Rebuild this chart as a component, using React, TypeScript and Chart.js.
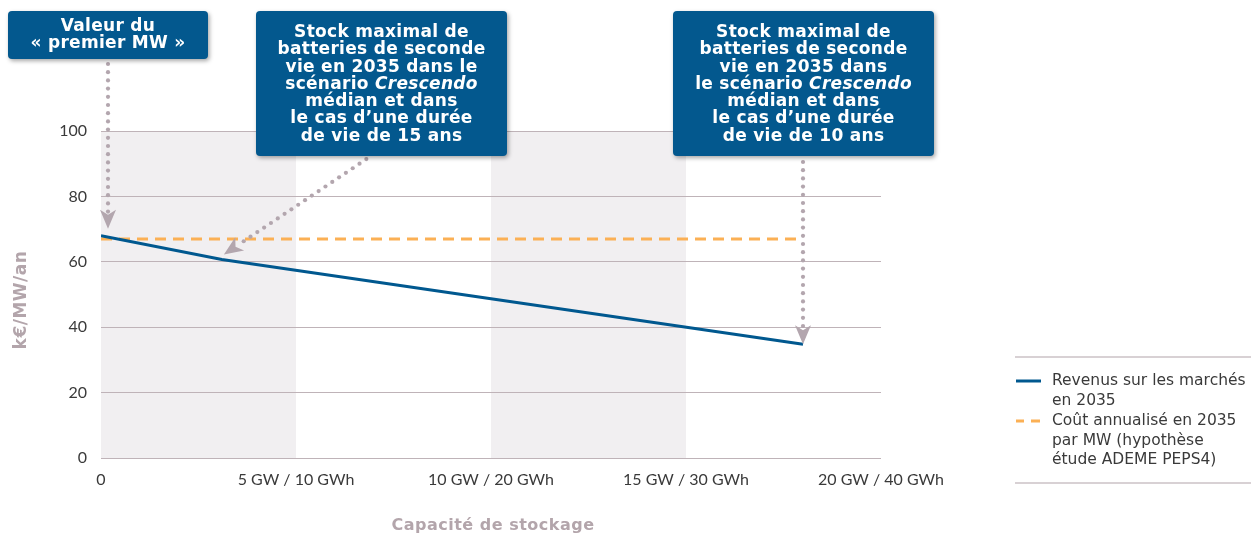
import React, { useEffect, useRef } from "react";
import { Chart, registerables } from "chart.js";

Chart.register(...registerables);

// ---------- data ----------
const revenueCapacityGW = [0, 3.1, 18];
const revenueValues = [68, 60.7, 34.8];
const costCapacityGW = [0, 18];
const costValues = [67, 67];
const xTickValues = [0, 5, 10, 15, 20];
const xTickLabels = ["0", "5 GW / 10 GWh", "10 GW / 20 GWh", "15 GW / 30 GWh", "20 GW / 40 GWh"];
const yTickStep = 20;
const yMax = 100;
const shadedBands = [
  [0, 5],
  [10, 15],
];
const yAxisTitle = "k€/MW/an";
const xAxisTitle = "Capacité de stockage";
const legendRevenue = ["Revenus sur les marchés", "en 2035"];
const legendCost = ["Coût annualisé en 2035", "par MW (hypothèse", "étude ADEME PEPS4)"];

type Seg = { t: string; i?: boolean };
const note1: Seg[][] = [[{ t: "Valeur du" }], [{ t: "« premier MW »" }]];
const note2: Seg[][] = [
  [{ t: "Stock maximal de" }],
  [{ t: "batteries de seconde" }],
  [{ t: "vie en 2035 dans le" }],
  [{ t: "scénario " }, { t: "Crescendo", i: true }],
  [{ t: "médian et dans" }],
  [{ t: "le cas d’une durée" }],
  [{ t: "de vie de 15 ans" }],
];
const note3: Seg[][] = [
  [{ t: "Stock maximal de" }],
  [{ t: "batteries de seconde" }],
  [{ t: "vie en 2035 dans" }],
  [{ t: "le scénario " }, { t: "Crescendo", i: true }],
  [{ t: "médian et dans" }],
  [{ t: "le cas d’une durée" }],
  [{ t: "de vie de 10 ans" }],
];

// ---------- styles ----------
const BLUE = "#00588f";
const ORANGE = "#fbb055";
const BAND = "#f1eff1";
const GRID = "#bfb3b8";
const MAUVE = "#b3a5ab";
const ARROW = "#b3a6ae";
const TEXT = "#3a3a3a";
const BOX = "#03588e";

function drawRich(ctx: CanvasRenderingContext2D, lines: Seg[][], cx: number, y0: number, lh: number) {
  ctx.save();
  ctx.fillStyle = "#ffffff";
  ctx.textBaseline = "middle";
  ctx.textAlign = "left";
  (ctx as any).letterSpacing = "0.3px";
  const fontFor = (s: Seg) => (s.i ? "italic " : "") + "bold 17px 'DejaVu Sans'";
  lines.forEach((segs, li) => {
    const widths = segs.map((s) => {
      ctx.font = fontFor(s);
      return ctx.measureText(s.t).width;
    });
    const total = widths.reduce((a, b) => a + b, 0);
    let x = cx - total / 2;
    segs.forEach((s, k) => {
      ctx.font = fontFor(s);
      ctx.fillText(s.t, x, y0 + li * lh);
      x += widths[k];
    });
  });
  ctx.restore();
}

function drawBox(ctx: CanvasRenderingContext2D, x: number, y: number, w: number, h: number) {
  ctx.save();
  ctx.shadowColor = "rgba(0,0,0,0.35)";
  ctx.shadowBlur = 4;
  ctx.shadowOffsetX = 1.5;
  ctx.shadowOffsetY = 2;
  ctx.fillStyle = BOX;
  ctx.beginPath();
  (ctx as any).roundRect(x, y, w, h, 4);
  ctx.fill();
  ctx.restore();
}

function drawDottedArrow(ctx: CanvasRenderingContext2D, x1: number, y1: number, x2: number, y2: number) {
  const dx = x2 - x1;
  const dy = y2 - y1;
  const len = Math.hypot(dx, dy);
  const ux = dx / len;
  const uy = dy / len;
  const headLen = 19;
  const halfW = 8;
  const notch = 5;
  ctx.save();
  ctx.fillStyle = ARROW;
  const dotLen = len - headLen + notch - 2;
  for (let d = 2; d <= dotLen; d += 8.2) {
    ctx.beginPath();
    ctx.arc(x1 + ux * d, y1 + uy * d, 2.1, 0, Math.PI * 2);
    ctx.fill();
  }
  const bx = x2 - ux * headLen;
  const by = y2 - uy * headLen;
  const px = -uy;
  const py = ux;
  ctx.beginPath();
  ctx.moveTo(x2, y2);
  ctx.lineTo(bx + px * halfW, by + py * halfW);
  ctx.lineTo(bx + ux * notch, by + uy * notch);
  ctx.lineTo(bx - px * halfW, by - py * halfW);
  ctx.closePath();
  ctx.fill();
  ctx.restore();
}

const decorPlugin = {
  id: "decor",
  beforeDraw(chart: any) {
    const ctx = chart.ctx as CanvasRenderingContext2D;
    const xs = chart.scales.x;
    const ys = chart.scales.y;
    ctx.save();
    ctx.fillStyle = BAND;
    const top = ys.getPixelForValue(yMax);
    const bottom = ys.getPixelForValue(0);
    shadedBands.forEach(([a, b]) => {
      const x1 = xs.getPixelForValue(a);
      const x2 = xs.getPixelForValue(b);
      ctx.fillRect(x1, top, x2 - x1, bottom - top);
    });
    ctx.restore();
  },
  afterDraw(chart: any) {
    const ctx = chart.ctx as CanvasRenderingContext2D;
    const xs = chart.scales.x;
    const ys = chart.scales.y;

    // arrows
    const p0x = xs.getPixelForValue(revenueCapacityGW[0]);
    const p0y = ys.getPixelForValue(revenueValues[0]);
    drawDottedArrow(ctx, p0x + 7, 62, p0x + 7, p0y - 7);
    const p1x = xs.getPixelForValue(revenueCapacityGW[1]);
    const p1y = ys.getPixelForValue(revenueValues[1]);
    drawDottedArrow(ctx, 368, 158, p1x + 2, p1y - 5);
    const p2x = xs.getPixelForValue(revenueCapacityGW[2]);
    const p2y = ys.getPixelForValue(revenueValues[2]);
    drawDottedArrow(ctx, p2x, 160, p2x, p2y);

    // boxes
    drawBox(ctx, 8, 11, 200, 48);
    drawRich(ctx, note1, 108, 27, 17);
    drawBox(ctx, 256, 11, 251, 145);
    drawRich(ctx, note2, 381.5, 32.5, 17.3);
    drawBox(ctx, 673, 11, 261, 145);
    drawRich(ctx, note3, 803.5, 32.5, 17.3);

    // axis titles
    ctx.save();
    ctx.fillStyle = MAUVE;
    ctx.font = "bold 16px 'DejaVu Sans'";
    (ctx as any).letterSpacing = "0.5px";
    ctx.textAlign = "center";
    ctx.textBaseline = "middle";
    ctx.fillText(xAxisTitle, 493, 526);
    ctx.translate(22, 300);
    ctx.rotate(-Math.PI / 2);
    ctx.font = "bold 17px 'DejaVu Sans'";
    ctx.fillText(yAxisTitle, 0, 0);
    ctx.restore();

    // legend
    ctx.save();
    ctx.strokeStyle = "#cbc2c6";
    ctx.lineWidth = 1.5;
    ctx.beginPath();
    ctx.moveTo(1015, 357);
    ctx.lineTo(1251, 357);
    ctx.moveTo(1015, 483);
    ctx.lineTo(1251, 483);
    ctx.stroke();
    ctx.lineWidth = 3;
    ctx.strokeStyle = BLUE;
    ctx.beginPath();
    ctx.moveTo(1016, 381);
    ctx.lineTo(1041, 381);
    ctx.stroke();
    ctx.strokeStyle = ORANGE;
    ctx.beginPath();
    ctx.moveTo(1016, 421);
    ctx.lineTo(1024, 421);
    ctx.moveTo(1031, 421);
    ctx.lineTo(1040, 421);
    ctx.stroke();
    ctx.fillStyle = TEXT;
    ctx.font = "15.5px 'DejaVu Sans'";
    ctx.textAlign = "left";
    ctx.textBaseline = "middle";
    legendRevenue.forEach((t, i) => ctx.fillText(t, 1052, 381 + i * 19.7));
    legendCost.forEach((t, i) => ctx.fillText(t, 1052, 421 + i * 19.7));
    ctx.restore();
  },
};

export default function App() {
  const ref = useRef<HTMLCanvasElement | null>(null);
  useEffect(() => {
    if (!ref.current) return;
    const chart = new Chart(ref.current, {
      type: "line",
      data: {
        datasets: [
          {
            label: legendRevenue.join(" "),
            data: revenueCapacityGW.map((x, i) => ({ x, y: revenueValues[i] })),
            borderColor: BLUE,
            borderWidth: 3,
            pointRadius: 0,
            fill: false,
          },
          {
            label: legendCost.join(" "),
            data: costCapacityGW.map((x, i) => ({ x, y: costValues[i] })),
            borderColor: ORANGE,
            borderWidth: 3,
            borderDash: [11, 7],
            pointRadius: 0,
            fill: false,
          },
        ],
      },
      options: {
        responsive: false,
        animation: false,
        devicePixelRatio: 1,
        layout: { padding: { top: 131, right: 375, bottom: 0, left: 0 } },
        plugins: { legend: { display: false }, tooltip: { enabled: false } },
        scales: {
          x: {
            type: "linear",
            min: 0,
            max: 20,
            afterBuildTicks: (scale: any) => {
              scale.ticks = xTickValues.map((v) => ({ value: v }));
            },
            afterFit: (scale: any) => {
              scale.height = 79;
            },
            grid: { display: false, drawTicks: false },
            border: { display: false },
            ticks: {
              padding: 12,
              maxRotation: 0,
              autoSkip: false,
              color: TEXT,
              font: { family: "Lato", size: 16 },
              callback: (v: any) => xTickLabels[xTickValues.indexOf(Number(v))] ?? "",
            },
          },
          y: {
            min: 0,
            max: yMax,
            afterFit: (scale: any) => {
              scale.width = 101;
            },
            grid: { color: GRID, lineWidth: 1, drawTicks: false },
            border: { display: false },
            ticks: {
              stepSize: yTickStep,
              padding: 14,
              color: TEXT,
              font: { family: "Lato", size: 16 },
            },
          },
        },
      },
      plugins: [decorPlugin],
    } as any);
    return () => chart.destroy();
  }, []);
  return (
    <div style={{ position: "absolute", left: 0, top: 0, width: 1256, height: 537, background: "#fff" }}>
      <canvas ref={ref} width={1256} height={537} style={{ width: 1256, height: 537, display: "block" }} />
    </div>
  );
}
